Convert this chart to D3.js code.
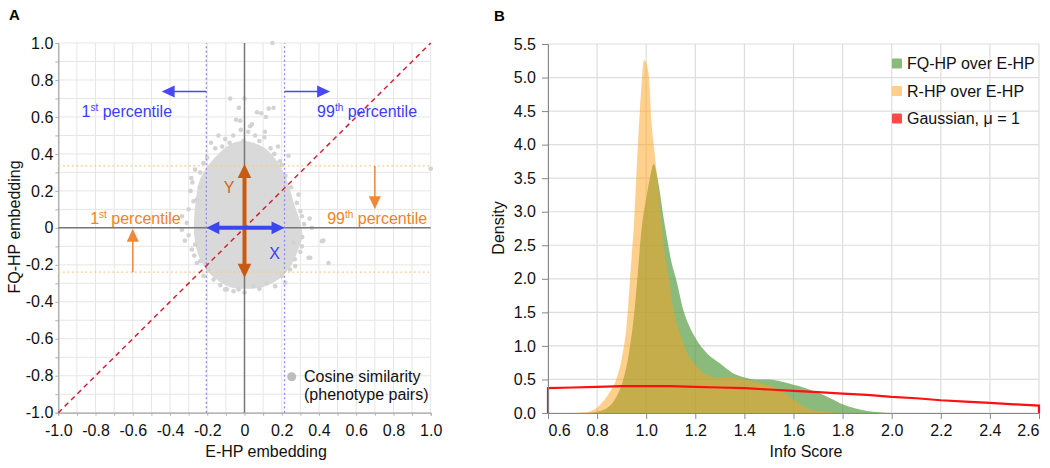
<!DOCTYPE html>
<html><head><meta charset="utf-8">
<script src="https://cdn.jsdelivr.net/npm/d3@7"></script>
<style>
body{margin:0;background:#fff}
text{font-family:"Liberation Sans",Arial,Helvetica,sans-serif;}
</style>
</head><body>
<svg id="chart" width="1050" height="468"></svg>
<script>
// ---------------- DATA ----------------
// Panel A: axis ticks
const ticksA = [-1.0,-0.8,-0.6,-0.4,-0.2,0,0.2,0.4,0.6,0.8,1.0];
const tickLabelsA = ["-1.0","-0.8","-0.6","-0.4","-0.2","0","0.2","0.4","0.6","0.8","1.0"];
// percentile thresholds
const percentileX = [-0.205, 0.215];   // E-HP 1st / 99th percentile
const percentileY = [-0.24, 0.335];    // FQ-HP 1st / 99th percentile
// dense core of cosine-similarity cloud (outline)
const cloudX = [-0.02,0.05,0.11,0.16,0.21,0.24,0.27,0.30,0.31,0.28,0.24,0.18,0.10,0.00,-0.08,-0.15,-0.21,-0.25,-0.27,-0.27,-0.26,-0.24,-0.20,-0.15,-0.08];
const cloudY = [0.47,0.46,0.43,0.38,0.30,0.22,0.12,0.03,-0.05,-0.14,-0.22,-0.28,-0.32,-0.33,-0.32,-0.28,-0.22,-0.14,-0.04,0.06,0.16,0.26,0.33,0.39,0.45];
// individual phenotype pairs around the core
const pairs = [
[0.15,1.0],[1.0,0.32],[-0.077,0.70],[-0.03,0.65],[0.13,0.645],[0.09,0.62],[0.156,0.65],[0.067,0.625],[0.115,0.60],
[-0.046,0.585],[-0.023,0.58],[0.0,0.70],[0.03,0.55],[-0.14,0.50],[-0.18,0.46],[0.107,0.49],[0.18,0.44],[0.14,0.43],
[-0.265,0.315],[-0.286,0.27],[-0.157,0.43],[-0.104,0.48],[0.057,0.50],[-0.06,0.50],[0.236,0.39],[0.20,0.34],
[-0.238,0.30],[-0.28,0.246],[-0.256,0.153],[-0.336,-0.01],[0.362,0.0],[0.424,-0.069],[0.451,-0.19],[0.353,-0.162],
[0.308,-0.10],[-0.095,-0.333],[-0.059,-0.343],[0.048,-0.316],[0.12,-0.30],[-0.166,-0.28],[-0.283,-0.117],[-0.256,-0.19],
[0.245,-0.225],[0.263,-0.08],[-0.336,0.063],[-0.31,0.027],[0.416,-0.072],[0.344,-0.162],[-0.104,-0.333],[-0.032,-0.333],
[0.219,-0.297],[0.281,0.135],[0.308,0.063],[-0.274,0.144],[-0.265,-0.09],[-0.238,-0.18],[-0.193,-0.225],[0.272,-0.207],
[0.165,-0.316],[0.02,0.52],[-0.02,0.53],[0.08,0.47],[-0.08,0.46],[0.16,0.40],[-0.2,0.38],[-0.22,0.35],[0.22,0.28],
[0.25,0.22],[-0.29,0.2],[0.29,0.18],[0.3,0.09],[-0.3,0.10],[0.32,0.02],[-0.3,-0.04],[0.31,-0.05],[0.30,-0.13],
[-0.27,-0.15],[0.2,-0.26],[-0.22,-0.26],[0.08,-0.33],[-0.13,-0.31],[0.0,-0.35],[0.11,0.52],[-0.12,0.44],[0.04,0.56],
[-0.005,0.47],[0.19,0.36],[-0.24,0.22],[0.27,-0.17],[0.35,0.05],[-0.32,-0.07]
];
// annotation arrows [x1,y1,x2,y2] in data units
const arrowsThinBlue = [[-0.205,0.737,-0.445,0.737],[0.215,0.737,0.46,0.737]];
const arrowsThinOrange = [[0.70,0.335,0.70,0.10],[-0.60,-0.24,-0.60,-0.005]];
const arrowX = [-0.205,0,0.215,0];
const arrowY = [0,-0.27,0,0.345];

// Panel B
const ticksBx = [0.6,0.8,1.0,1.2,1.4,1.6,1.8,2.0,2.2,2.4,2.6];
const tickLabelsBx = ["0.6","0.8","1.0","1.2","1.4","1.6","1.8","2.0","2.2","2.4","2.6"];
const ticksBy = [0,0.5,1.0,1.5,2.0,2.5,3.0,3.5,4.0,4.5,5.0,5.5];
const tickLabelsBy = ["0.0","0.5","1.0","1.5","2.0","2.5","3.0","3.5","4.0","4.5","5.0","5.5"];
const seriesNames = ["FQ-HP over E-HP","R-HP over E-HP","Gaussian, \u03bc = 1"];
const fqX = [0.70,0.75,0.80,0.85,0.88,0.90,0.93,0.95,0.965,0.98,1.00,1.015,1.03,1.05,1.07,1.085,1.10,1.125,1.15,1.175,1.20,1.25,1.30,1.35,1.40,1.45,1.50,1.55,1.60,1.65,1.70,1.75,1.80,1.85,1.90,1.95,2.00];
const fqY = [0,0,0.02,0.10,0.25,0.42,0.90,1.45,2.05,2.70,3.20,3.50,3.71,3.42,2.93,2.60,2.30,1.95,1.55,1.30,1.12,0.88,0.74,0.60,0.53,0.50,0.50,0.47,0.42,0.37,0.30,0.22,0.13,0.07,0.03,0.01,0];
const rX = [0.70,0.75,0.80,0.85,0.88,0.90,0.92,0.94,0.95,0.96,0.975,0.992,1.01,1.022,1.036,1.05,1.063,1.075,1.09,1.11,1.14,1.165,1.20,1.25,1.30,1.35,1.40,1.45,1.50,1.55,1.60,1.65,1.70,1.75,1.80];
const rY = [0,0.01,0.08,0.30,0.52,0.80,1.30,2.30,2.80,3.55,4.55,5.26,5.05,4.32,3.82,3.30,2.80,2.40,2.06,1.56,1.16,0.91,0.72,0.56,0.52,0.52,0.50,0.46,0.41,0.33,0.20,0.08,0.03,0.01,0];
const gaussX = [0.6,0.7,0.8,0.9,1.0,1.1,1.2,1.3,1.4,1.5,1.6,1.7,1.8,1.9,2.0,2.1,2.2,2.3,2.4,2.5,2.6];
const gaussY = [0.37,0.38,0.39,0.40,0.40,0.40,0.39,0.38,0.37,0.35,0.33,0.31,0.29,0.27,0.24,0.22,0.19,0.17,0.15,0.13,0.11];

// ---------------- DRAW ----------------
const svg = d3.select("#chart");
const FONT = 16;

function arrow(g, x1, y1, x2, y2, color, width, hl, hw, both) {
  const dx = x2 - x1, dy = y2 - y1, L = Math.hypot(dx, dy);
  const ux = dx / L, uy = dy / L, nx = -uy, ny = ux;
  const sx = both ? x1 + ux * hl * 0.9 : x1, sy = both ? y1 + uy * hl * 0.9 : y1;
  const ex = x2 - ux * hl * 0.9, ey = y2 - uy * hl * 0.9;
  g.append("line").attr("x1", sx).attr("y1", sy).attr("x2", ex).attr("y2", ey)
    .attr("stroke", color).attr("stroke-width", width);
  const head = (tx, ty, vx, vy) => {
    const bx = tx - vx * hl, by = ty - vy * hl;
    g.append("path").attr("d", `M${tx},${ty}L${bx + nx * hw},${by + ny * hw}L${bx - nx * hw},${by - ny * hw}Z`)
      .attr("fill", color);
  };
  head(x2, y2, ux, uy);
  if (both) head(x1, y1, -ux, -uy);
}

// ===== Panel A =====
const xA = d3.scaleLinear().domain([-1, 1]).range([58.3, 430.7]);
const yA = d3.scaleLinear().domain([-1, 1]).range([412.7, 43]);
const gA = svg.append("g");

svg.append("text").attr("x", 9).attr("y", 20).attr("font-weight", "bold").attr("font-size", 15).text("A");

// grid
const gridA = xA.ticks(20);
gA.append("g").selectAll("line").data(gridA).join("line")
  .attr("x1", d => xA(d)).attr("x2", d => xA(d)).attr("y1", yA(-1)).attr("y2", yA(1))
  .attr("stroke", "#e6e6e6").attr("stroke-width", 1);
gA.append("g").selectAll("line").data(yA.ticks(20)).join("line")
  .attr("y1", d => yA(d)).attr("y2", d => yA(d)).attr("x1", xA(-1)).attr("x2", xA(1))
  .attr("stroke", "#e6e6e6").attr("stroke-width", 1);

// axes
gA.append("g").attr("transform", `translate(0,${yA(-1)})`)
  .call(d3.axisBottom(xA).tickValues(ticksA).tickFormat((d, i) => tickLabelsA[i]).tickSize(0).tickPadding(12));
gA.append("g").attr("transform", `translate(${xA(-1)},0)`)
  .call(d3.axisLeft(yA).tickValues(ticksA).tickFormat((d, i) => tickLabelsA[i]).tickSize(0).tickPadding(5));
gA.append("g").attr("transform", `translate(0,${yA(-1)})`)
  .call(d3.axisBottom(xA).tickValues(gridA).tickFormat("").tickSize(3));
gA.append("g").attr("transform", `translate(${xA(-1)},0)`)
  .call(d3.axisLeft(yA).tickValues(gridA).tickFormat("").tickSize(3));
gA.selectAll(".domain").attr("stroke", "#b0b0b0");
gA.selectAll(".tick line").attr("stroke", "#b0b0b0");
gA.selectAll(".tick text").attr("font-size", FONT).attr("fill", "#111");

// cloud core
const cloudPts = cloudX.map((x, i) => [xA(x), yA(cloudY[i])]);
gA.append("path").attr("d", d3.line().curve(d3.curveCatmullRomClosed)(cloudPts))
  .attr("fill", "#d9d9d9");
gA.append("g").selectAll("circle").data(pairs).join("circle")
  .attr("cx", d => xA(d[0])).attr("cy", d => yA(d[1])).attr("r", 2.3)
  .attr("fill", "#d3d3d3");

// zero lines
gA.append("line").attr("x1", xA(0)).attr("x2", xA(0)).attr("y1", yA(-1)).attr("y2", yA(1))
  .attr("stroke", "#777").attr("stroke-width", 1.5);
gA.append("line").attr("y1", yA(0)).attr("y2", yA(0)).attr("x1", xA(-1)).attr("x2", xA(1))
  .attr("stroke", "#777").attr("stroke-width", 1.5);

// percentile lines
gA.append("g").selectAll("line").data(percentileX).join("line")
  .attr("x1", d => xA(d)).attr("x2", d => xA(d)).attr("y1", yA(-1)).attr("y2", yA(1))
  .attr("stroke", "#8c8cee").attr("stroke-width", 1.3).attr("stroke-dasharray", "2,2.5");
gA.append("g").selectAll("line").data(percentileY).join("line")
  .attr("y1", d => yA(d)).attr("y2", d => yA(d)).attr("x1", xA(-1)).attr("x2", xA(1))
  .attr("stroke", "#f8cc88").attr("stroke-width", 1.3).attr("stroke-dasharray", "2,2.5");

// diagonal
gA.append("line").attr("x1", xA(-1)).attr("y1", yA(-1)).attr("x2", xA(1)).attr("y2", yA(1))
  .attr("stroke", "#d62030").attr("stroke-width", 1.5).attr("stroke-dasharray", "5,4");

// arrows
arrowsThinBlue.forEach(a => arrow(gA, xA(a[0]), yA(a[1]), xA(a[2]), yA(a[3]), "#4848f4", 1.5, 13, 6, false));
arrowsThinOrange.forEach(a => arrow(gA, xA(a[0]), yA(a[1]), xA(a[2]), yA(a[3]), "#f0883a", 1.5, 13, 6, false));
arrow(gA, xA(arrowY[0]), yA(arrowY[1]), xA(arrowY[2]), yA(arrowY[3]), "#c85a14", 4, 14, 6.8, true);
arrow(gA, xA(arrowX[0]), yA(arrowX[1]), xA(arrowX[2]), yA(arrowX[3]), "#3a46f0", 4, 13, 6.3, true);

// annotation text
function pctText(x, y, num, sup, color) {
  const t = gA.append("text").attr("x", xA(x)).attr("y", yA(y)).attr("font-size", FONT).attr("fill", color);
  t.append("tspan").text(num);
  t.append("tspan").attr("font-size", 10).attr("dy", -6).text(sup);
  t.append("tspan").attr("dy", 6).text(" percentile");
}
pctText(-0.875, 0.60, "1", "st", "#3c3cf8");
pctText(0.39, 0.60, "99", "th", "#3c3cf8");
pctText(-0.829, 0.023, "1", "st", "#f08228");
pctText(0.444, 0.023, "99", "th", "#f08228");
gA.append("text").attr("x", xA(-0.083)).attr("y", yA(0.218)).attr("dy", "0.35em").attr("text-anchor", "middle")
  .attr("font-size", FONT).attr("fill", "#d2641e").text("Y");
gA.append("text").attr("x", xA(0.162)).attr("y", yA(-0.139)).attr("dy", "0.35em").attr("text-anchor", "middle")
  .attr("font-size", FONT).attr("fill", "#3c3cf8").text("X");

// legend A
svg.append("circle").attr("cx", 291.7).attr("cy", 376.7).attr("r", 4.5).attr("fill", "#bdbdbd");
svg.append("text").attr("x", 304).attr("y", 382).attr("font-size", FONT).attr("fill", "#111").text("Cosine similarity");
svg.append("text").attr("x", 304).attr("y", 400).attr("font-size", FONT).attr("fill", "#111").text("(phenotype pairs)");

// titles A
svg.append("text").attr("x", 266).attr("y", 457).attr("text-anchor", "middle").attr("font-size", FONT).attr("fill", "#111").text("E-HP embedding");
svg.append("text").attr("transform", "translate(20,227) rotate(-90)").attr("text-anchor", "middle").attr("font-size", FONT).attr("fill", "#111").text("FQ-HP embedding");

// ===== Panel B =====
const xB = d3.scaleLinear().domain([0.6, 2.6]).range([548, 1039]);
const yB = d3.scaleLinear().domain([0, 5.5]).range([413, 44]);
const gB = svg.append("g");
svg.append("text").attr("x", 494).attr("y", 21).attr("font-weight", "bold").attr("font-size", 15).text("B");

gB.append("g").selectAll("line").data(ticksBx).join("line")
  .attr("x1", d => xB(d)).attr("x2", d => xB(d)).attr("y1", yB(0)).attr("y2", yB(5.5))
  .attr("stroke", "#dddddd").attr("stroke-width", 1.2);
gB.append("g").selectAll("line").data(ticksBy).join("line")
  .attr("y1", d => yB(d)).attr("y2", d => yB(d)).attr("x1", xB(0.6)).attr("x2", xB(2.6))
  .attr("stroke", "#dddddd").attr("stroke-width", 1.2);

const areaGen = d3.area().curve(d3.curveMonotoneX).x(d => xB(d[0])).y0(yB(0)).y1(d => yB(d[1]));
gB.append("path").attr("d", areaGen(fqX.map((x, i) => [x, fqY[i]]))).attr("fill", "#549b3e").attr("fill-opacity", 0.68);
gB.append("path").attr("d", areaGen(rX.map((x, i) => [x, rY[i]]))).attr("fill", "#ff9f1a").attr("fill-opacity", 0.5);

const gaussPts = [[gaussX[0], 0]].concat(gaussX.map((x, i) => [x, gaussY[i]])).concat([[gaussX[gaussX.length - 1], 0]]);
gB.append("path").attr("d", d3.line().x(d => xB(d[0])).y(d => yB(d[1]))(gaussPts))
  .attr("fill", "none").attr("stroke", "#ff1010").attr("stroke-width", 2.2);

const axBB = gB.append("g").attr("transform", `translate(0,${yB(0)})`)
  .call(d3.axisBottom(xB).tickValues(ticksBx).tickFormat((d, i) => tickLabelsBx[i]).tickSize(6).tickPadding(6));
axBB.selectAll(".tick text").attr("text-anchor", (d, i) => i === 0 ? "start" : (i === ticksBx.length - 1 ? "end" : "middle"));
gB.append("g").attr("transform", `translate(${xB(0.6)},0)`)
  .call(d3.axisLeft(yB).tickValues(ticksBy).tickFormat((d, i) => tickLabelsBy[i]).tickSize(6).tickPadding(6));
gB.selectAll(".domain").attr("stroke", "#888");
gB.selectAll(".tick line").attr("stroke", "#888");
gB.selectAll(".tick text").attr("font-size", FONT).attr("fill", "#111");

// legend B
const legColors = ["#549b3e", "#ff9f1a", "#ff1a1a"];
const legOpac = [0.68, 0.5, 0.8];
seriesNames.forEach((n, i) => {
  const cy = 63.5 + i * 27.5;
  svg.append("rect").attr("x", 892).attr("y", cy - 5).attr("width", 10).attr("height", 10).attr("rx", 1)
    .attr("fill", legColors[i]).attr("fill-opacity", legOpac[i]);
  svg.append("text").attr("x", 907).attr("y", cy).attr("dy", "0.35em").attr("font-size", FONT).attr("fill", "#111").text(n);
});

svg.append("text").attr("x", 806).attr("y", 457).attr("text-anchor", "middle").attr("font-size", FONT).attr("fill", "#111").text("Info Score");
svg.append("text").attr("transform", "translate(504,228) rotate(-90)").attr("text-anchor", "middle").attr("font-size", FONT).attr("fill", "#111").text("Density");
</script>
</body></html>
